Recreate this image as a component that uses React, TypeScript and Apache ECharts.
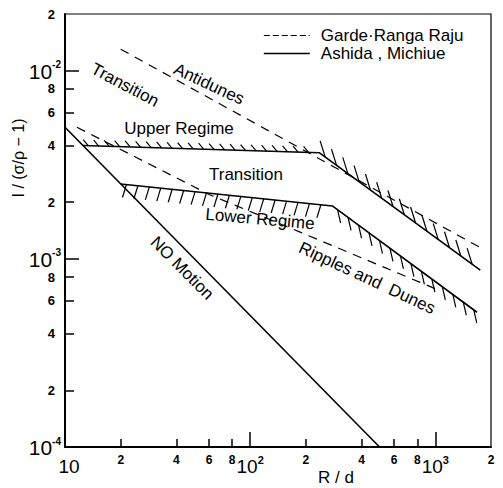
import React, { useEffect, useRef } from 'react';
import * as echarts from 'echarts';

const FONT = '"Liberation Sans", Arial, sans-serif';
const GARDE = 'Garde·Ranga Raju';
const ASHIDA = 'Ashida , Michiue';

// axis ticks / labels (R/d and I/(σ/ρ-1) values)
const xMajorTicks = [100, 1000];
const xMinorTicks = [20, 40, 60, 80, 200, 400, 600, 800];
const xLabelValues = [10, 20, 40, 60, 80, 100, 200, 400, 600, 800, 1000, 2000];
const yMajorTicks = [1e-3, 1e-2];
const yMinorTicks = [2e-4, 4e-4, 6e-4, 8e-4, 2e-3, 4e-3, 6e-3, 8e-3];
const yLabelValues = [1e-4, 2e-4, 4e-4, 6e-4, 8e-4, 1e-3, 2e-3, 4e-3, 6e-3, 8e-3, 1e-2, 2e-2];

// Ashida, Michiue (solid)
const noMotionR = [10, 500];
const noMotionI = [5.0e-3, 1.0e-4];
const upperRegimeR = [12.5, 237, 1750];
const upperRegimeI = [4.0e-3, 3.66e-3, 8.7e-4];
const lowerRegimeR = [20, 278, 1680];
const lowerRegimeI = [2.5e-3, 1.91e-3, 5.2e-4];

// Garde, Ranga Raju (dashed)
const gardeUpperR = [20, 1800];
const gardeUpperI = [1.3e-2, 1.13e-3];
const gardeLowerR = [11.6, 60.5, 185, 1050];
const gardeLowerI = [5.0e-3, 2.19e-3, 1.39e-3, 6.8e-4];

// hatch styling (pixels) per boundary segment
const upperHatch = [
  { dx: -5, dy: -6, step: 10.5 },
  { dx: -5, dy: -16, step: 14 },
];
const lowerHatch = [
  { dx: -4, dy: 13, step: 11.5 },
  { dx: 3, dy: 13, step: 13 },
];

const annotations = [
  { text: 'Transition', x: 125, y: 85, rot: -28 },
  { text: 'Antidunes', x: 209, y: 84, rot: -25 },
  { text: 'Upper Regime', x: 179, y: 128, rot: 0 },
  { text: 'Transition', x: 246, y: 174, rot: 0 },
  { text: 'Lower Regime', x: 260, y: 219, rot: -5 },
  { text: 'NO Motion', x: 182, y: 268, rot: -45 },
  { text: 'Ripples and  Dunes', x: 367, y: 278, rot: -25 },
];

const zip = (a: number[], b: number[]) => a.map((v, i) => [v, b[i]]);

function decomp(v: number) {
  const e = Math.floor(Math.log10(v) + 1e-9);
  const m = Math.round(v / Math.pow(10, e));
  return { e, m };
}

function fmtX(v: number) {
  const { e, m } = decomp(v);
  if (m === 1) return e === 1 ? '{f|10}' : `{b|10}{s|${e}}`;
  return `{m|${m}}`;
}
function fmtY(v: number) {
  const { e, m } = decomp(v);
  if (m === 1) return `{b|10}{s|${e}}`;
  return `{m|${m}}`;
}

function hatchSeries(R: number[], I: number[], hatch: { dx: number; dy: number; step: number }[]) {
  const data: number[][] = [];
  for (let i = 0; i < R.length - 1; i++) data.push([R[i], I[i], R[i + 1], I[i + 1]]);
  return {
    type: 'custom',
    xAxisIndex: 0,
    yAxisIndex: 0,
    silent: true,
    z: 3,
    data,
    renderItem: (params: any, api: any) => {
      const a = api.coord([api.value(0), api.value(1)]);
      const b = api.coord([api.value(2), api.value(3)]);
      const h = hatch[params.dataIndex];
      const len = Math.hypot(b[0] - a[0], b[1] - a[1]);
      const ux = (b[0] - a[0]) / len;
      const uy = (b[1] - a[1]) / len;
      const children: any[] = [];
      for (let s = h.step / 2; s < len - 2; s += h.step) {
        const px = a[0] + ux * s;
        const py = a[1] + uy * s;
        children.push({
          type: 'line',
          shape: { x1: px, y1: py, x2: px + h.dx, y2: py + h.dy },
          style: { stroke: '#000', lineWidth: 1.2 },
        });
      }
      return { type: 'group', children };
    },
  };
}

const solid = (name: string, R: number[], I: number[]) => ({
  type: 'line',
  name,
  data: zip(R, I),
  symbol: 'none',
  showSymbol: false,
  silent: true,
  z: 4,
  lineStyle: { color: '#000', width: 1.6 },
  itemStyle: { color: '#000' },
});
const dashed = (name: string, R: number[], I: number[]) => ({
  type: 'line',
  name,
  data: zip(R, I),
  symbol: 'none',
  showSymbol: false,
  silent: true,
  z: 4,
  lineStyle: { color: '#000', width: 1.2, type: [9, 7] },
  itemStyle: { color: '#000' },
});

const xRich = {
  b: { fontFamily: FONT, fontSize: 19, color: '#000', lineHeight: 22, verticalAlign: 'bottom' },
  f: { fontFamily: FONT, fontSize: 19, color: '#000', lineHeight: 22, verticalAlign: 'bottom', padding: [0, 0, 0, 8] },
  s: { fontFamily: FONT, fontSize: 11, fontWeight: 'bold', color: '#000', lineHeight: 22, verticalAlign: 'top' },
  m: { fontFamily: FONT, fontSize: 12, fontWeight: 'bold', color: '#000', lineHeight: 12 },
};
const yRich = {
  b: { fontFamily: FONT, fontSize: 21, color: '#000', lineHeight: 22, verticalAlign: 'bottom' },
  s: { fontFamily: FONT, fontSize: 10, fontWeight: 'bold', color: '#000', lineHeight: 22, verticalAlign: 'top' },
  m: { fontFamily: FONT, fontSize: 13, fontWeight: 'bold', color: '#000', padding: [0, 6, 0, 0] },
};

const xBase = { type: 'log', logBase: 10, min: 10, max: 2000, position: 'bottom', gridIndex: 0 };
const yBase = { type: 'log', logBase: 10, min: 1e-4, max: 2e-2, position: 'left', gridIndex: 0 };

const hiddenSymbol = { opacity: 0, color: 'rgba(0,0,0,0)', borderColor: 'rgba(0,0,0,0)', borderWidth: 0 };

const option: any = {
  animation: false,
  backgroundColor: '#fff',
  grid: {
    left: 65, right: 12, top: 14, bottom: 41,
    show: true, borderColor: '#000', borderWidth: 1.2, backgroundColor: 'transparent',
    containLabel: false, outerBoundsMode: 'none',
  },
  xAxis: [
    {
      ...xBase,
      axisLine: { show: true, onZero: false, lineStyle: { color: '#000', width: 2 } },
      axisTick: { show: true, inside: true, length: 15, customValues: xMajorTicks, lineStyle: { color: '#000', width: 1.5 } },
      minorTick: { show: false },
      splitLine: { show: false },
      axisLabel: { show: true, customValues: xLabelValues, margin: 7, formatter: fmtX, rich: xRich },
    },
    {
      ...xBase,
      axisLine: { show: false, onZero: false },
      axisTick: { show: true, inside: true, length: 8, customValues: xMinorTicks, lineStyle: { color: '#000', width: 1.5 } },
      minorTick: { show: false },
      splitLine: { show: false },
      axisLabel: { show: false },
    },
  ],
  yAxis: [
    {
      ...yBase,
      axisLine: { show: true, onZero: false, lineStyle: { color: '#000', width: 2 } },
      axisTick: { show: true, inside: true, length: 14, customValues: yMajorTicks, lineStyle: { color: '#000', width: 1.5 } },
      minorTick: { show: false },
      splitLine: { show: false },
      axisLabel: { show: true, customValues: yLabelValues, margin: 4, formatter: fmtY, rich: yRich },
    },
    {
      ...yBase,
      axisLine: { show: false, onZero: false },
      axisTick: { show: true, inside: true, length: 9, customValues: yMinorTicks, lineStyle: { color: '#000', width: 1.5 } },
      minorTick: { show: false },
      splitLine: { show: false },
      axisLabel: { show: false },
    },
  ],
  legend: {
    orient: 'vertical',
    left: 263,
    top: 27,
    padding: 0,
    itemWidth: 46,
    itemHeight: 14,
    itemGap: 1,
    selectedMode: false,
    itemStyle: hiddenSymbol,
    data: [
      { name: GARDE, lineStyle: { type: [6, 3], width: 1.2, color: '#000' }, itemStyle: hiddenSymbol },
      { name: ASHIDA, lineStyle: { width: 1.6, color: '#000' }, itemStyle: hiddenSymbol },
    ],
    textStyle: { fontFamily: FONT, fontSize: 17, lineHeight: 17, color: '#000', padding: [0, 0, 0, 6] },
  },
  graphic: [
    ...annotations.map((a) => ({
      type: 'text',
      x: a.x,
      y: a.y,
      rotation: (a.rot * Math.PI) / 180,
      silent: true,
      z: 10,
      style: {
        text: a.text, fontFamily: FONT, fontSize: 17, fill: '#000',
        align: 'center', verticalAlign: 'middle', textAlign: 'center', textVerticalAlign: 'middle',
      },
    })),
    {
      type: 'text', x: 18, y: 158, rotation: Math.PI / 2, silent: true,
      style: {
        text: 'I / (σ/ρ − 1)', fontFamily: FONT, fontSize: 16, fill: '#000',
        align: 'center', verticalAlign: 'middle', textAlign: 'center', textVerticalAlign: 'middle',
      },
    },
    {
      type: 'text', x: 336, y: 477, silent: true,
      style: {
        text: 'R / d', fontFamily: FONT, fontSize: 17, fill: '#000',
        align: 'center', verticalAlign: 'middle', textAlign: 'center', textVerticalAlign: 'middle',
      },
    },
  ],
  series: [
    solid(ASHIDA, noMotionR, noMotionI),
    solid(ASHIDA, upperRegimeR, upperRegimeI),
    solid(ASHIDA, lowerRegimeR, lowerRegimeI),
    dashed(GARDE, gardeUpperR, gardeUpperI),
    dashed(GARDE, gardeLowerR, gardeLowerI),
    hatchSeries(upperRegimeR, upperRegimeI, upperHatch),
    hatchSeries(lowerRegimeR, lowerRegimeI, lowerHatch),
  ],
};

export default function App() {
  const ref = useRef<HTMLDivElement>(null);
  useEffect(() => {
    if (!ref.current) return;
    const chart = echarts.init(ref.current, null, { renderer: 'svg' });
    chart.setOption(option);
    return () => chart.dispose();
  }, []);
  return (
    <div
      ref={ref}
      style={{ position: 'fixed', left: 0, top: 0, width: 503, height: 488, background: '#fff' }}
    />
  );
}
